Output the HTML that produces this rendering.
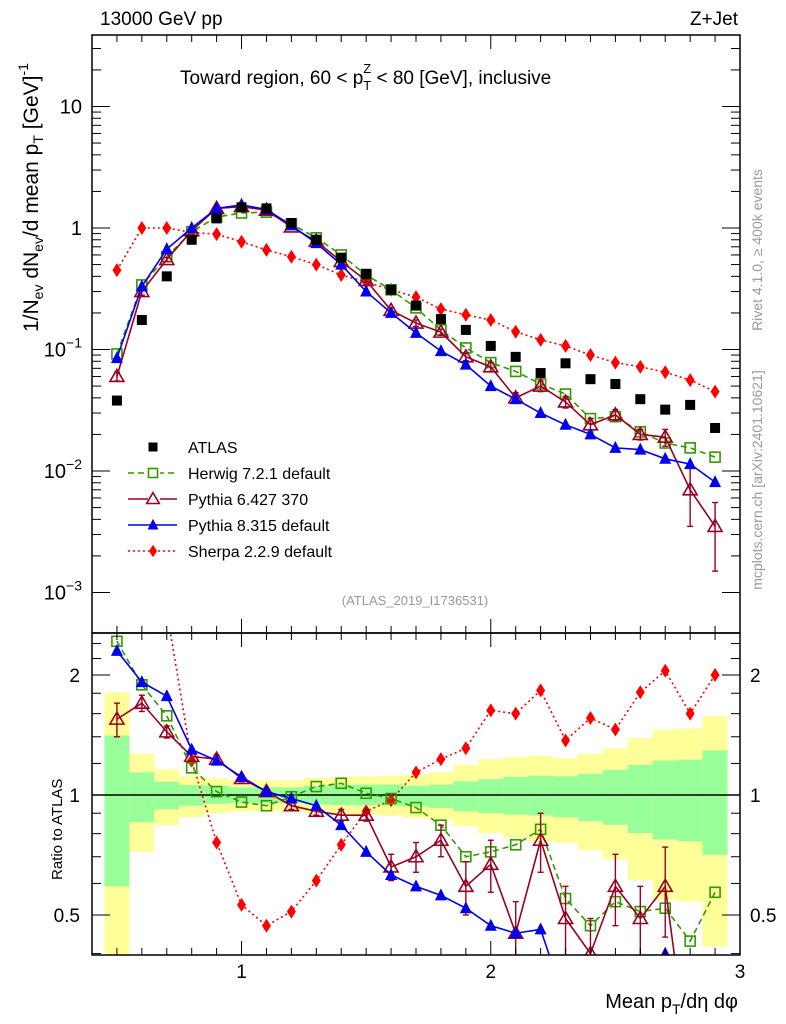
<!DOCTYPE html>
<html><head><meta charset="utf-8"><style>
html,body{margin:0;padding:0;background:#fff;overflow:hidden;width:786px;height:1024px;}
svg{display:block;font-family:"Liberation Sans",Arial,sans-serif;}
</style></head><body>
<svg id="chart" width="786" height="1024" viewBox="0 0 786 1024" xmlns="http://www.w3.org/2000/svg">
<g id="bands"></g>
<g id="main"></g>
<g id="ratio"></g>
<g id="axes"></g>
<text x="100" y="25" font-size="19">13000 GeV pp</text>
<text x="738" y="25" font-size="19" text-anchor="end">Z+Jet</text>
<text x="180" y="84" font-size="19">Toward region, 60 &lt; p<tspan font-size="13" dy="6">T</tspan><tspan font-size="13" dx="-8" dy="-17">Z</tspan><tspan dy="11"> &lt; 80 [GeV], inclusive</tspan></text>
<text x="415" y="605" font-size="13" fill="#999" text-anchor="middle">(ATLAS_2019_I1736531)</text>
<text transform="translate(38,332) rotate(-90)" font-size="21">1/N<tspan font-size="14" dy="5">ev</tspan><tspan dy="-5"> dN</tspan><tspan font-size="14" dy="5">ev</tspan><tspan dy="-5">/d mean p</tspan><tspan font-size="14" dy="5">T</tspan><tspan dy="-5"> [GeV]</tspan><tspan font-size="14" dy="-10">-1</tspan></text>
<text transform="translate(62,880) rotate(-90)" font-size="15">Ratio to ATLAS</text>
<text x="738" y="1008" font-size="20" text-anchor="end">Mean p<tspan font-size="14" dy="6">T</tspan><tspan dy="-6">/dη dφ</tspan></text>
<text transform="translate(762,250) rotate(-90)" font-size="14" fill="#999" text-anchor="middle">Rivet 4.1.0, ≥ 400k events</text>
<text transform="translate(762,480) rotate(-90)" font-size="14" fill="#999" text-anchor="middle">mcplots.cern.ch [arXiv:2401.10621]</text>
<g id="legend"></g>
</svg>
<script>
const xVals=[0.5,0.6,0.7,0.8,0.9,1.0,1.1,1.2,1.3,1.4,1.5,1.6,1.7,1.8,1.9,2.0,2.1,2.2,2.3,2.4,2.5,2.6,2.7,2.8,2.9];
const atlas=[0.038,0.175,0.40,0.80,1.2,1.48,1.45,1.1,0.8,0.57,0.42,0.31,0.23,0.178,0.145,0.107,0.087,0.064,0.077,0.057,0.052,0.039,0.032,0.035,0.0226];
const herwig=[0.092,0.34,0.58,0.93,1.23,1.33,1.35,1.08,0.83,0.6,0.41,0.31,0.22,0.145,0.103,0.078,0.066,0.052,0.043,0.027,0.028,0.021,0.017,0.0155,0.013];
const pythia6=[0.06,0.30,0.55,0.95,1.45,1.5,1.40,1.02,0.78,0.53,0.37,0.21,0.165,0.139,0.087,0.072,0.040,0.05,0.037,0.024,0.029,0.020,0.019,0.0070,0.0035];
const pythia6Err=[0.005,0.02,0.02,0.02,0.03,0.03,0.03,0.02,0.02,0.01,0.01,0.01,0.01,0.008,0.006,0.006,0.004,0.005,0.004,0.003,0.003,0.002,0.003,0.0035,0.002];
const pythia8=[0.085,0.33,0.67,1.0,1.45,1.55,1.42,1.05,0.75,0.5,0.30,0.20,0.137,0.097,0.075,0.050,0.039,0.030,0.024,0.020,0.0155,0.015,0.0126,0.0114,0.0081];
const sherpa=[0.45,1.0,1.0,0.92,0.89,0.77,0.66,0.58,0.50,0.41,0.36,0.31,0.27,0.215,0.193,0.175,0.14,0.12,0.107,0.09,0.078,0.072,0.065,0.056,0.045];
const rHerwig=[2.43,1.89,1.58,1.17,1.02,0.96,0.94,0.99,1.05,1.07,1.01,0.98,0.93,0.84,0.70,0.72,0.75,0.82,0.55,0.47,0.54,0.51,0.52,0.43,0.57];
const rPythia6=[1.55,1.70,1.44,1.25,1.23,1.10,1.02,0.94,0.91,0.89,0.89,0.66,0.70,0.77,0.59,0.67,0.45,0.77,0.49,0.40,0.59,0.49,0.59,0.2,0.15];
const rPythia6Err=[0.15,0.08,0.05,0.03,0.03,0.02,0.02,0.02,0.02,0.03,0.03,0.05,0.06,0.07,0.09,0.1,0.09,0.13,0.1,0.09,0.12,0.1,0.15,0.1,0.1];
const rPythia8=[2.30,1.92,1.77,1.30,1.22,1.11,1.02,0.98,0.94,0.84,0.72,0.63,0.59,0.56,0.52,0.47,0.45,0.46,0.3,0.33,0.3,0.35,0.40,0.3,0.35];
const rSherpa=[11,5.7,2.9,1.22,0.76,0.53,0.47,0.51,0.61,0.75,0.91,0.97,1.14,1.23,1.31,1.63,1.60,1.83,1.37,1.56,1.46,1.81,2.05,1.60,2.0];
const yelHi=[1.81,1.27,1.16,1.115,1.10,1.088,1.088,1.088,1.103,1.108,1.114,1.118,1.125,1.14,1.19,1.23,1.245,1.255,1.238,1.27,1.31,1.39,1.46,1.47,1.58];
const grnHi=[1.41,1.14,1.08,1.06,1.055,1.045,1.045,1.045,1.055,1.06,1.062,1.062,1.055,1.062,1.082,1.096,1.11,1.118,1.114,1.131,1.157,1.19,1.22,1.226,1.294];
const grnLo=[0.59,0.855,0.92,0.94,0.95,0.955,0.955,0.955,0.946,0.944,0.942,0.94,0.937,0.928,0.91,0.901,0.893,0.888,0.879,0.859,0.842,0.803,0.773,0.765,0.708];
const yelLo=[0.3,0.72,0.84,0.88,0.90,0.91,0.91,0.91,0.901,0.896,0.893,0.888,0.876,0.867,0.835,0.803,0.78,0.765,0.758,0.726,0.689,0.611,0.546,0.541,0.417];
const mainTicks=[10,1,0.1,0.01,0.001];
const mainTickLabels=["10","1","10","10","10"];
const mainTickExp=["","","−1","−2","−3"];
const ratioTicks=[2,1,0.5];
const ratioTickLabels=["2","1","0.5"];
const xTicks=[1,2,3];
const xTickLabels=["1","2","3"];

const NS="http://www.w3.org/2000/svg";
const L=92,R=740,MT=35,MB=633,RT=633,RB=955;
const X=v=>L+(v-0.4)*(R-L)/2.6;
const YM=v=>228-Math.log10(v)*121.5;
const YR=v=>795-Math.log10(v)*398.6;
function mk(tag,attrs,parent){const e=document.createElementNS(NS,tag);for(const k in attrs)e.setAttribute(k,attrs[k]);parent.appendChild(e);return e;}
const svg=document.getElementById('chart');
const defs=mk('defs',{},svg);
const cm=mk('clipPath',{id:'cm'},defs);mk('rect',{x:L,y:MT,width:R-L,height:MB-MT},cm);
const cr=mk('clipPath',{id:'cr'},defs);mk('rect',{x:L,y:RT,width:R-L,height:RB-RT},cr);

const bands=document.getElementById('bands');bands.setAttribute('clip-path','url(#cr)');
xVals.forEach((x,i)=>{
  const x0=X(x-0.05),x1=X(x+0.05);
  const y=mk('rect',{x:x0,y:YR(yelHi[i]),width:x1-x0,height:YR(yelLo[i])-YR(yelHi[i]),fill:'#ffff99'},bands);
  
  
  const g=mk('rect',{x:x0,y:YR(grnHi[i]),width:x1-x0,height:YR(grnLo[i])-YR(grnHi[i]),fill:'#99ff99'},bands);
  
  
});

function marker(type,cx,cy,color,parent,s){
  s=s||1;let e;
  if(type==='sq') e=mk('rect',{x:cx-5*s,y:cy-5*s,width:10*s,height:10*s,fill:'black'},parent);
  else if(type==='osq') e=mk('rect',{x:cx-5*s,y:cy-5*s,width:10*s,height:10*s,fill:'none',stroke:color,'stroke-width':1.6},parent);
  else if(type==='otri') e=mk('polygon',{points:`${cx},${cy-7*s} ${cx-7*s},${cy+5*s} ${cx+7*s},${cy+5*s}`,fill:'none',stroke:color,'stroke-width':1.6},parent);
  else if(type==='tri') e=mk('polygon',{points:`${cx},${cy-7*s} ${cx-6*s},${cy+5*s} ${cx+6*s},${cy+5*s}`,fill:color},parent);
  else e=mk('polygon',{points:`${cx},${cy-7*s} ${cx-4.5*s},${cy} ${cx},${cy+7*s} ${cx+4.5*s},${cy}`,fill:color},parent);
  return e;
}
function series(parent,vals,Y,color,dash,type,name,errs){
  const g=mk('g',{},parent);
  
  
  if(type!=='sq'){
    const pts=xVals.map((x,i)=>X(x)+','+Y(vals[i])).join(' ');
    mk('polyline',{points:pts,fill:'none',stroke:color,'stroke-width':1.6,'stroke-dasharray':dash},g);
  }
  xVals.forEach((x,i)=>{
    if(errs){const lo=vals[i]-errs[i]>0?vals[i]-errs[i]:vals[i]*0.3;
      mk('line',{x1:X(x),x2:X(x),y1:Y(vals[i]+errs[i]),y2:Y(lo),stroke:color,'stroke-width':1.4},g);
      mk('line',{x1:X(x)-3,x2:X(x)+3,y1:Y(vals[i]+errs[i]),y2:Y(vals[i]+errs[i]),stroke:color,'stroke-width':1.4},g);
      mk('line',{x1:X(x)-3,x2:X(x)+3,y1:Y(lo),y2:Y(lo),stroke:color,'stroke-width':1.4},g);}
    const m=marker(type,X(x),Y(vals[i]),color,g);
    
    
  });
}
const main=document.getElementById('main');main.setAttribute('clip-path','url(#cm)');
series(main,sherpa,YM,'#ff0000','2,3','dia','sherpa-series');
series(main,herwig,YM,'#339900','6,4','osq','herwig-series');
series(main,pythia6,YM,'#990022','','otri','pythia6-series',pythia6Err);
series(main,pythia8,YM,'#0000ee','','tri','pythia8-series');
series(main,atlas,YM,'#000','','sq','atlas-data');
const ratio=document.getElementById('ratio');ratio.setAttribute('clip-path','url(#cr)');
mk('line',{x1:L,x2:R,y1:YR(1),y2:YR(1),stroke:'#000','stroke-width':1.5},ratio);
series(ratio,rSherpa,YR,'#ff0000','2,3','dia','sherpa-ratio');
series(ratio,rHerwig,YR,'#339900','6,4','osq','herwig-ratio');
series(ratio,rPythia6,YR,'#990022','','otri','pythia6-ratio',rPythia6Err);
series(ratio,rPythia8,YR,'#0000ee','','tri','pythia8-ratio');

const ax=document.getElementById('axes');
mk('rect',{x:L,y:MT,width:R-L,height:MB-MT,fill:'none',stroke:'#000','stroke-width':1.5},ax);
mk('rect',{x:L,y:RT,width:R-L,height:RB-RT,fill:'none',stroke:'#000','stroke-width':1.5},ax);
for(let v=0.5;v<3.01;v+=0.1){const major=Math.abs(v-Math.round(v))<0.01;const len=major?14:7;
  [[MT,1],[MB,-1],[RT,1],[RB,-1]].forEach(([y,d])=>mk('line',{x1:X(v),x2:X(v),y1:y,y2:y+d*len,stroke:'#000','stroke-width':1},ax));}
xTicks.forEach((t,i)=>{const e=mk('text',{x:X(t),y:978,'font-size':19,'text-anchor':'middle'},ax);e.textContent=xTickLabels[i];
  
  });
for(let d=-3;d<=1;d++){for(let k=1;k<10;k++){const v=k*Math.pow(10,d);const y=YM(v);if(y<MT||y>MB)continue;const len=k===1?18:9;
  mk('line',{x1:L,x2:L+len,y1:y,y2:y,stroke:'#000'},ax);mk('line',{x1:R,x2:R-len,y1:y,y2:y,stroke:'#000'},ax);}}
mainTicks.forEach((t,i)=>{const e=mk('text',{x:82,y:YM(t)+7,'font-size':20,'text-anchor':'end'},ax);
  
  
  e.textContent=mainTickLabels[i];
  if(mainTickExp[i]){const s=mk('tspan',{'font-size':14,dy:-9},e);s.textContent=mainTickExp[i];}});
[0.4,0.5,0.6,0.7,0.8,0.9,1,1.2,1.4,1.6,1.8,2,2.2,2.4].forEach(v=>{const y=YR(v);if(y<RT||y>RB)return;const len=(v===0.5||v===1||v===2)?18:9;
  mk('line',{x1:L,x2:L+len,y1:y,y2:y,stroke:'#000'},ax);mk('line',{x1:R,x2:R-len,y1:y,y2:y,stroke:'#000'},ax);});
ratioTicks.forEach((t,i)=>{const a=mk('text',{x:80,y:YR(t)+7,'font-size':19,'text-anchor':'end'},ax);a.textContent=ratioTickLabels[i];
  
  
  const b=mk('text',{x:750,y:YR(t)+7,'font-size':19},ax);b.textContent=ratioTickLabels[i];
  
  });

const lg=document.getElementById('legend');
const legNames=["ATLAS","Herwig 7.2.1 default","Pythia 6.427 370","Pythia 8.315 default","Sherpa 2.2.9 default"];
const legTypes=['sq','osq','otri','tri','dia'];
const legColors=['#000','#339900','#990022','#0000ee','#ff0000'];
const legDash=['','6,4','','','2,3'];
legNames.forEach((n,i)=>{const y=447+i*26;const g=mk('g',{},lg);
  
  
  if(i>0)mk('line',{x1:128,x2:177,y1:y,y2:y,stroke:legColors[i],'stroke-width':1.6,'stroke-dasharray':legDash[i]},g);
  if(i>0&&legTypes[i]!=='tri'&&legTypes[i]!=='dia')mk('rect',{x:148,y:y-6,width:12,height:12,fill:'#fff'},g);
  marker(legTypes[i],153,y,legColors[i],g,0.9);
  const t=mk('text',{x:188,y:y+6,'font-size':16},g);t.textContent=n;});
</script>
</body></html>
